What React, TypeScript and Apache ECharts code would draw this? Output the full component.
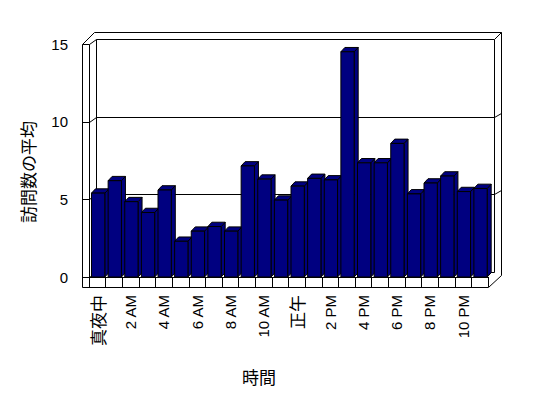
import React, { useEffect, useRef } from "react";
import * as echarts from "echarts";

const categories = [
  "真夜中", "1 AM", "2 AM", "3 AM", "4 AM", "5 AM", "6 AM", "7 AM", "8 AM", "9 AM", "10 AM", "11 AM",
  "正午", "1 PM", "2 PM", "3 PM", "4 PM", "5 PM", "6 PM", "7 PM", "8 PM", "9 PM", "10 PM", "11 PM",
];
const visits = [
  5.4, 6.2, 4.85, 4.15, 5.6, 2.3, 2.95, 3.25, 2.95, 7.15, 6.3, 4.95,
  5.85, 6.35, 6.25, 14.5, 7.35, 7.35, 8.6, 5.35, 6.05, 6.5, 5.5, 5.7,
];
const yTicks = [0, 5, 10, 15];
const xName = "時間";
const yName = "訪問数の平均";

const BAR = "#000080";
const LINE = "#000000";
const JP = '"Noto Sans CJK JP", sans-serif';
const LAT = '"Liberation Sans", Arial, sans-serif';

const px = (v: number) => Math.round(v) + 0.5;

export default function App() {
  const ref = useRef<HTMLDivElement>(null);
  useEffect(() => {
    if (!ref.current) return;
    const chart = echarts.init(ref.current, undefined, { renderer: "svg" });
    const lineStyle = { stroke: LINE, lineWidth: 1, fill: "none" };

    const wallsRender = (params: any, api: any) => {
      const cs = params.coordSys;
      const L = cs.x;
      const R = cs.x + cs.width;
      const y = (v: number) => api.coord([0, v])[1];
      const top = y(yTicks[yTicks.length - 1]);
      const y0 = y(0);
      const children: any[] = [];
      const poly = (pts: number[][]) =>
        children.push({ type: "polyline", shape: { points: pts.map((p) => [px(p[0]), px(p[1])]) }, style: lineStyle });
      poly([[L - 7, top], [L - 7, y0 + 10]]);
      poly([[L, top], [L, y0]]);
      poly([[L + 7, top - 5], [L + 7, y0 - 5]]);
      poly([[R + 6, top - 5], [R + 6, y0 - 5]]);
      yTicks.forEach((v) => {
        const yv = y(v);
        const pts = [[L - 7, yv], [L, yv], [L + 7, yv - 5], [R + 6, yv - 5]];
        if (v === yTicks[yTicks.length - 1]) pts.push([R + 13, yv - 12]);
        else if (v !== 0) pts.push([R + 13, yv - 9]);
        poly(pts);
      });
      poly([[L - 7, top], [L + 5, top - 12], [R + 13, top - 12], [R + 13, y0 - 2], [R, y0 + 10]]);
      poly([[L - 7, y0 + 10], [R, y0 + 10]]);
      return { type: "group", children };
    };

    const barsRender = (params: any, api: any) => {
      const i = api.value(0);
      const v = api.value(1);
      const catW = api.size([1, 0])[0];
      const c = api.coord([i, v]);
      const b = api.coord([i, 0]);
      const x0 = c[0] - catW / 2 + 2.5;
      const x1 = x0 + catW * 0.8;
      const yt = c[1];
      const yb = b[1];
      const dx = 4;
      const dy = -4.3;
      const st = { fill: BAR, stroke: LINE, lineWidth: 1 };
      return {
        type: "group",
        children: [
          { type: "polygon", shape: { points: [[x1, yt], [x1 + dx, yt + dy], [x1 + dx, yb + dy], [x1, yb]] }, style: st },
          { type: "polygon", shape: { points: [[x0, yt], [x1, yt], [x1 + dx, yt + dy], [x0 + dx, yt + dy]] }, style: st },
          { type: "rect", shape: { x: x0, y: yt, width: x1 - x0, height: yb - yt }, style: st },
        ],
      };
    };

    chart.setOption({
      animation: false,
      backgroundColor: "#ffffff",
      grid: { left: 89, top: 44, width: 399, height: 233 },
      xAxis: {
        type: "category",
        data: categories.map((c) =>
          /[^\x00-\x7F]/.test(c)
            ? { value: c, textStyle: { fontSize: 17, fontFamily: JP, color: "#000000" } }
            : c
        ),
        axisLine: { show: true, lineStyle: { color: LINE, width: 1 } },
        axisTick: { show: true, interval: 0, length: 10, lineStyle: { color: LINE, width: 1 } },
        axisLabel: {
          interval: 1,
          rotate: 90,
          margin: 18,
          color: () => "#000000",
          fontSize: 15,
          fontFamily: LAT,
          showMinLabel: true,
        },
        splitLine: { show: false },
      },
      yAxis: {
        type: "value",
        min: 0,
        max: 15,
        interval: 5,
        axisLine: { show: false },
        axisTick: { show: false },
        splitLine: { show: false },
        axisLabel: { margin: 21, color: "#000", fontSize: 15, fontFamily: LAT },
      },
      graphic: [
        {
          type: "text",
          x: 259,
          y: 376,
          style: { text: xName, font: `17px ${JP}`, fill: "#000", textAlign: "center", textVerticalAlign: "middle" },
        },
        {
          type: "text",
          x: 27,
          y: 172,
          rotation: Math.PI / 2,
          style: { text: yName, font: `17px ${JP}`, fill: "#000", textAlign: "center", textVerticalAlign: "middle" },
        },
      ],
      series: [
        {
          type: "custom",
          z: 1,
          renderItem: wallsRender,
          data: [[0, 0]],
          encode: { x: 0, y: 1 },
          silent: true,
        },
        {
          type: "custom",
          z: 2,
          renderItem: barsRender,
          data: visits.map((v, i) => [i, v]),
          encode: { x: 0, y: 1 },
        },
      ],
    });
    return () => chart.dispose();
  }, []);
  return <div ref={ref} style={{ position: "fixed", left: 0, top: 0, width: 548, height: 398 }} />;
}
